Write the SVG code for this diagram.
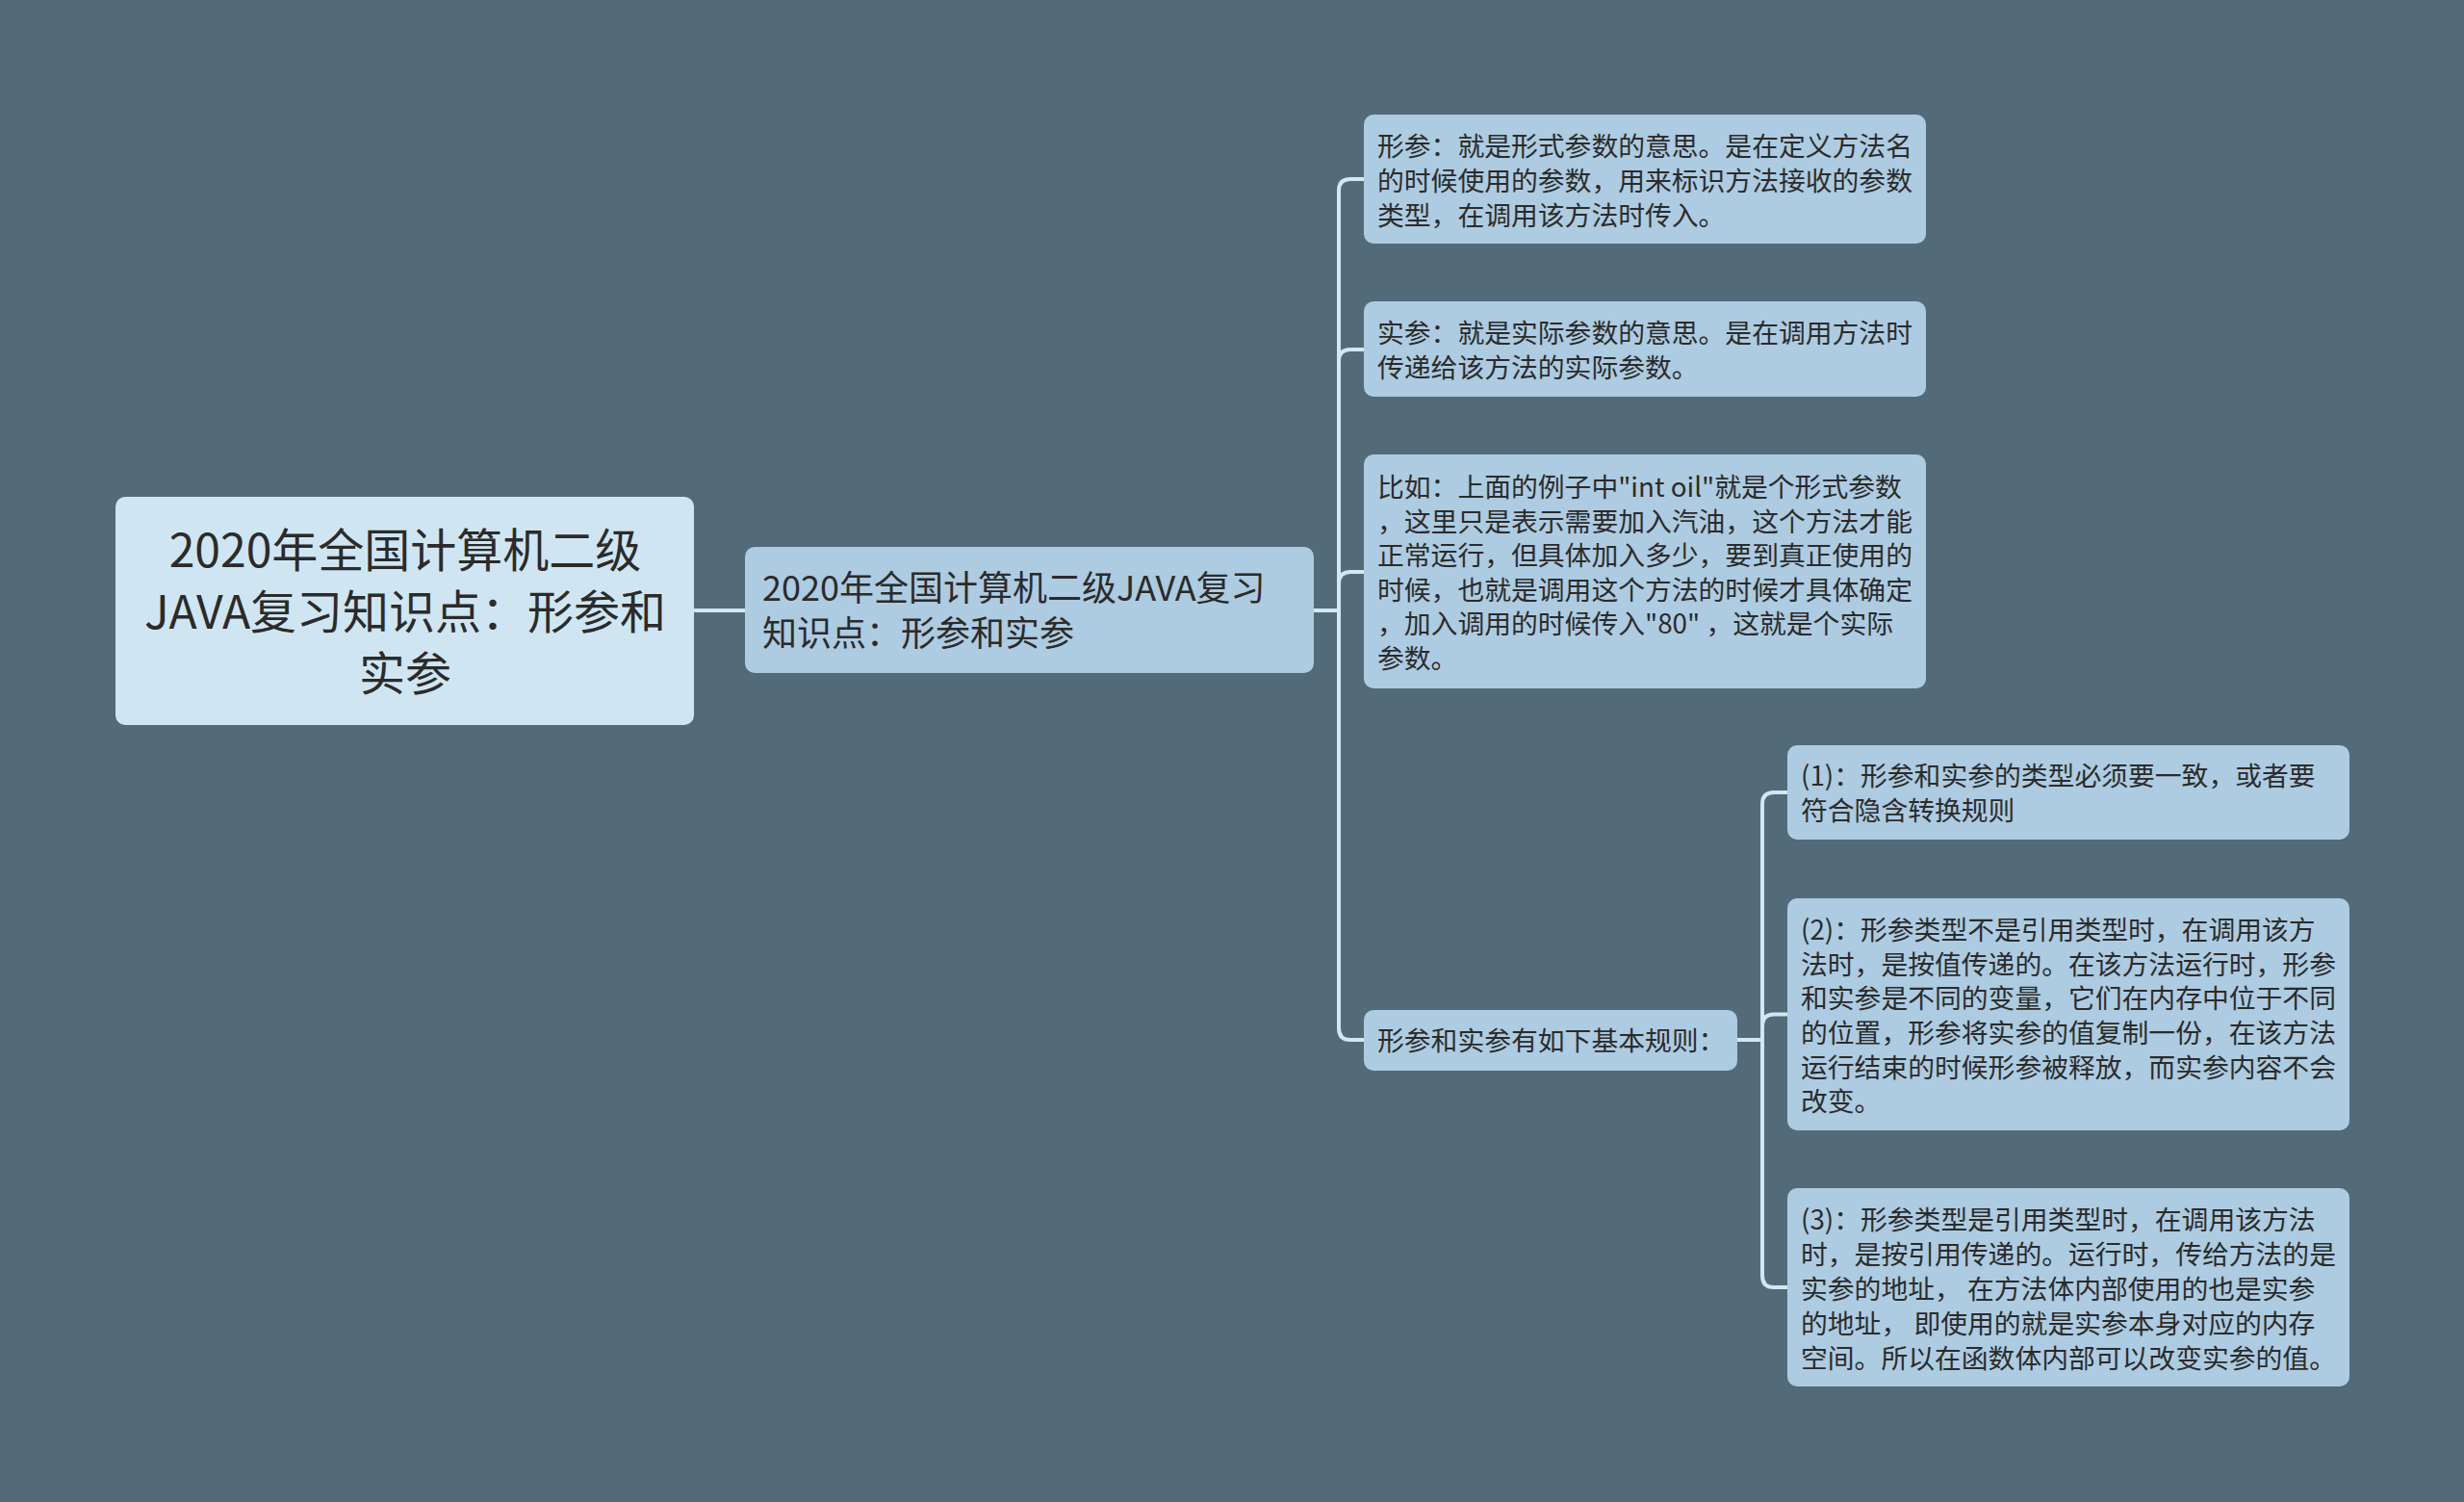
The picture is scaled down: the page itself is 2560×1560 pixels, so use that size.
<svg xmlns="http://www.w3.org/2000/svg" width="2560" height="1560" viewBox="0 0 2560 1560">
<style>
.bg{fill:#536a79}
.root{fill:#cfe6f2}
.box{fill:#adcbe1}
.t{font-family:"Noto Sans CJK SC","Noto Sans",sans-serif;fill:#2b2b2b;dominant-baseline:central}
.t48{font-size:48px}
.t36{font-size:36px}
.t28{font-size:27.8px}
.c{fill:none;stroke:#cfe8f2;stroke-width:4;stroke-linecap:round;stroke-linejoin:round}
</style>
<rect class="bg" x="0" y="0" width="2560" height="1560"/>
<g id="connectors">
<path class="c" d="M722 634 H774"/>
<path class="c" d="M1365 634 H1391 V198 Q1391 186 1403 186 H1417"/>
<path class="c" d="M1365 634 H1391 V375 Q1391 363 1403 363 H1417"/>
<path class="c" d="M1365 634 H1391 V606 Q1391 594 1403 594 H1417"/>
<path class="c" d="M1365 634 H1391 V1068 Q1391 1080 1403 1080 H1417"/>
<path class="c" d="M1805 1080 H1831 V835 Q1831 823 1843 823 H1857"/>
<path class="c" d="M1805 1080 H1831 V1065.5 Q1831 1053.5 1843 1053.5 H1857"/>
<path class="c" d="M1805 1080 H1831 V1325 Q1831 1337 1843 1337 H1857"/>
</g>
<g id="root">
<rect class="root" x="120" y="516" width="601" height="237" rx="10"/>
<text class="t t48" text-anchor="middle"><tspan x="421" y="568">2020年全国计算机二级</tspan><tspan x="421" y="632">JAVA复习知识点：形参和</tspan><tspan x="421" y="696">实参</tspan></text>
</g>
<g id="main">
<rect class="box" x="774" y="568" width="591" height="131" rx="10"/>
<text class="t t36"><tspan x="792" y="608">2020年全国计算机二级JAVA复习</tspan><tspan x="792" y="655">知识点：形参和实参</tspan></text>
</g>
<g id="n1">
<rect class="box" x="1417" y="119" width="584" height="134" rx="10"/>
<text class="t t28"><tspan x="1431" y="150">形参：就是形式参数的意思。是在定义方法名</tspan><tspan x="1431" y="186">的时候使用的参数，用来标识方法接收的参数</tspan><tspan x="1431" y="222">类型，在调用该方法时传入。</tspan></text>
</g>
<g id="n2">
<rect class="box" x="1417" y="313" width="584" height="99" rx="10"/>
<text class="t t28"><tspan x="1431" y="344">实参：就是实际参数的意思。是在调用方法时</tspan><tspan x="1431" y="380">传递给该方法的实际参数。</tspan></text>
</g>
<g id="n3">
<rect class="box" x="1417" y="472" width="584" height="243" rx="10"/>
<text class="t t28"><tspan x="1431" y="504">比如：上面的例子中"int oil"就是个形式参数</tspan><tspan x="1431" y="539.5">，这里只是表示需要加入汽油，这个方法才能</tspan><tspan x="1431" y="575">正常运行，但具体加入多少，要到真正使用的</tspan><tspan x="1431" y="610.5">时候，也就是调用这个方法的时候才具体确定</tspan><tspan x="1431" y="646">，加入调用的时候传入"80" ，这就是个实际</tspan><tspan x="1431" y="681.5">参数。</tspan></text>
</g>
<g id="n4">
<rect class="box" x="1417" y="1049" width="388" height="63" rx="10"/>
<text class="t t28"><tspan x="1431" y="1079">形参和实参有如下基本规则：</tspan></text>
</g>
<g id="n41">
<rect class="box" x="1857" y="774" width="584" height="98" rx="10"/>
<text class="t t28"><tspan x="1871" y="804">(1)：形参和实参的类型必须要一致，或者要</tspan><tspan x="1871" y="840">符合隐含转换规则</tspan></text>
</g>
<g id="n42">
<rect class="box" x="1857" y="933" width="584" height="241" rx="10"/>
<text class="t t28"><tspan x="1871" y="964">(2)：形参类型不是引用类型时，在调用该方</tspan><tspan x="1871" y="999.5">法时，是按值传递的。在该方法运行时，形参</tspan><tspan x="1871" y="1035">和实参是不同的变量，它们在内存中位于不同</tspan><tspan x="1871" y="1071">的位置，形参将实参的值复制一份，在该方法</tspan><tspan x="1871" y="1106.5">运行结束的时候形参被释放，而实参内容不会</tspan><tspan x="1871" y="1142">改变。</tspan></text>
</g>
<g id="n43">
<rect class="box" x="1857" y="1234" width="584" height="206" rx="10"/>
<text class="t t28"><tspan x="1871" y="1265">(3)：形参类型是引用类型时，在调用该方法</tspan><tspan x="1871" y="1301">时，是按引用传递的。运行时，传给方法的是</tspan><tspan x="1871" y="1337">实参的地址， 在方法体内部使用的也是实参</tspan><tspan x="1871" y="1373">的地址， 即使用的就是实参本身对应的内存</tspan><tspan x="1871" y="1409">空间。所以在函数体内部可以改变实参的值。</tspan></text>
</g>
</svg>
